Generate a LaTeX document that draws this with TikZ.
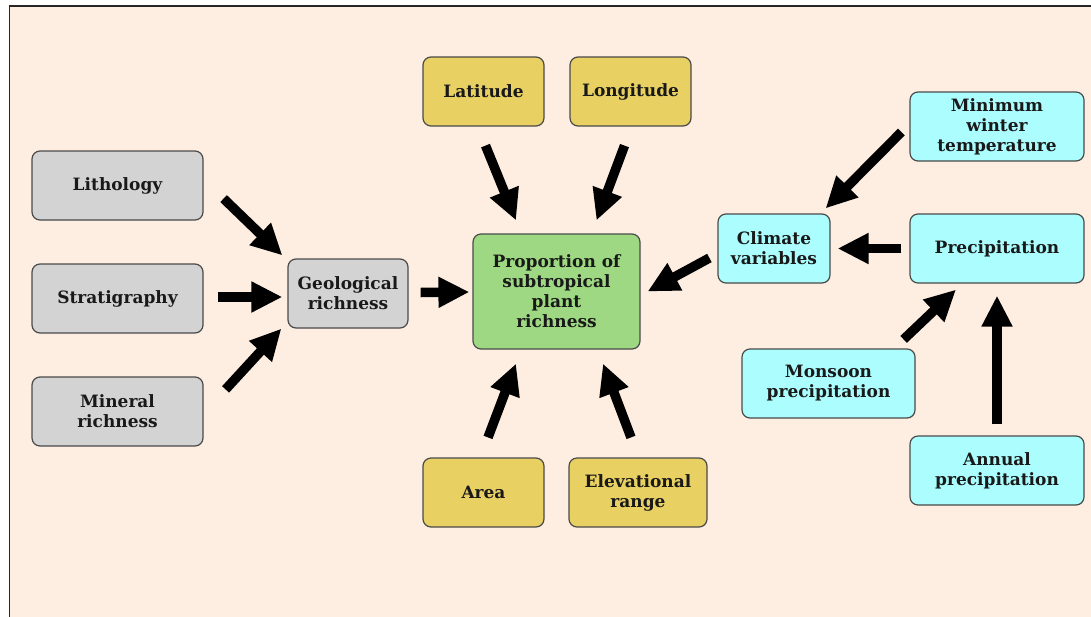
\documentclass[tikz,border=0pt]{standalone}
\usepackage{fontspec}
\setmainfont{DejaVu Serif}
\usetikzlibrary{arrows.meta}
\definecolor{bg}{HTML}{FDEEE1}
\definecolor{grayfill}{HTML}{D3D3D3}
\definecolor{greenfill}{HTML}{9ED882}
\definecolor{yellowfill}{HTML}{E8D062}
\definecolor{cyanfill}{HTML}{ABFDFE}
\definecolor{edge}{HTML}{4A4A4A}
\begin{document}
\begin{tikzpicture}[x=1pt,y=-1pt,
  box/.style={draw=edge, line width=1.2pt, rounded corners=8pt, align=center,
    font=\fontsize{17}{20}\selectfont\bfseries, text=black!90, inner sep=0pt},
  gbox/.style={box, fill=grayfill},
  grbox/.style={box, fill=greenfill},
  ybox/.style={box, fill=yellowfill},
  cbox/.style={box, fill=cyanfill},
  arr/.style={line width=9.5pt, -{Triangle[length=31pt,width=29pt]}, black}]
\useasboundingbox (0,0) rectangle (1091,616);
\begin{scope}
\clip (0,0) rectangle (1091,616);
\draw[fill=bg, line width=1.5pt, draw=black!85] (9.5,6) rectangle (1200,700);
\end{scope}
% nodes
\node[gbox, minimum width=171pt, minimum height=69pt] (lith) at (117.5,185.5) {Lithology};
\node[gbox, minimum width=171pt, minimum height=69pt] (strat) at (117.5,298.5) {Stratigraphy};
\node[gbox, minimum width=171pt, minimum height=69pt] (mineral) at (117.5,411.5) {Mineral\\richness};
\node[gbox, minimum width=120pt, minimum height=69pt] (geo) at (348,293.5) {Geological\\richness};
\node[grbox, minimum width=167pt, minimum height=115pt] (prop) at (556.5,291.5) {Proportion of\\subtropical\\plant\\richness};
\node[ybox, minimum width=121pt, minimum height=69pt] (lat) at (483.5,91.5) {Latitude};
\node[ybox, minimum width=121pt, minimum height=69pt] (long) at (630.5,91.5) {Longitude};
\node[ybox, minimum width=121pt, minimum height=69pt] (area) at (483.5,492.5) {Area};
\node[ybox, minimum width=138pt, minimum height=69pt] (elev) at (638,492.5) {Elevational\\range};
\node[cbox, minimum width=112pt, minimum height=69pt] (clim) at (774,248.5) {Climate\\variables};
\node[cbox, minimum width=174pt, minimum height=69pt] (minw) at (997,126.5) {Minimum\\winter\\temperature};
\node[cbox, minimum width=174pt, minimum height=69pt] (precip) at (997,248.5) {Precipitation};
\node[cbox, minimum width=173pt, minimum height=69pt] (mons) at (828.5,383.5) {Monsoon\\precipitation};
\node[cbox, minimum width=174pt, minimum height=69pt] (annual) at (997,470.5) {Annual\\precipitation};
% arrows
\draw[arr] ([shift={(20,-22)}]lith.south east) -- ([shift={(-5,-3)}]geo.north west);
\draw[arr] ([shift={(14,-1.5)}]strat.east) -- ([shift={(-5,3.5)}]geo.west);
\draw[arr] ([shift={(22,13)}]mineral.north east) -- ([shift={(-6,0)}]geo.south west);
\draw[arr] ([shift={(12,-1)}]geo.east) -- ([shift={(-3,0.5)}]prop.west);
\draw[arr] ([shift={(2,19)}]lat.south) -- ([shift={(-40.5,-13)}]prop.north);
\draw[arr] ([shift={(-6,19)}]long.south) -- ([shift={(40,-13)}]prop.north);
\draw[arr] ([shift={(4.5,-20)}]area.north) -- ([shift={(-40.5,14)}]prop.south);
\draw[arr] ([shift={(-7,-20)}]elev.north) -- ([shift={(46.5,14)}]prop.south);
\draw[arr] ([shift={(-8,9.5)}]clim.west) -- ([shift={(7,0)}]prop.east);
\draw[arr] ([shift={(-8,5.5)}]minw.west) -- ([shift={(-5,-5)}]clim.north east);
\draw[arr] ([shift={(-8,0)}]precip.west) -- ([shift={(7,0)}]clim.east);
\draw[arr] ([shift={(-12,-9)}]mons.north east) -- ([shift={(-41,6)}]precip.south);
\draw[arr] ([shift={(0,-11)}]annual.north) -- ([shift={(0,12)}]precip.south);
\end{tikzpicture}
\end{document}
